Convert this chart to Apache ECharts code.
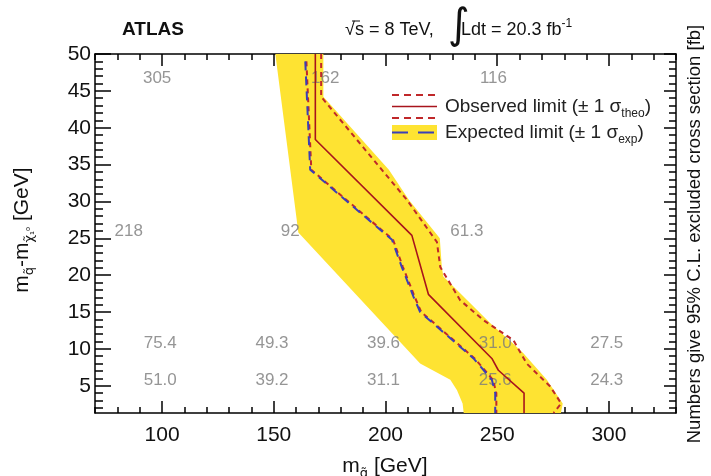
<!DOCTYPE html>
<html>
<head>
<meta charset="utf-8">
<script src="https://cdn.jsdelivr.net/npm/echarts@6/dist/echarts.min.js"></script>
<style>
html, body { margin: 0; padding: 0; background: #fff; }
#main { width: 711px; height: 476px; }
</style>
</head>
<body>
<div id="main"></div>
<script>
// tick positions
var xMajor = [100, 150, 200, 250, 300];
var xMinor = [70, 80, 90, 100, 110, 120, 130, 140, 150, 160, 170, 180, 190, 200, 210, 220, 230, 240, 250, 260, 270, 280, 290, 300, 310, 320, 330];
var yMajor = [5, 10, 15, 20, 25, 30, 35, 40, 45, 50];
var yMinor = [2, 3, 4, 5, 6, 7, 8, 9, 10, 11, 12, 13, 14, 15, 16, 17, 18, 19, 20, 21, 22, 23, 24, 25,
    26, 27, 28, 29, 30, 31, 32, 33, 34, 35, 36, 37, 38, 39, 40, 41, 42, 43, 44, 45, 46, 47, 48, 49, 50];

// limit contours [m_squark, delta m]
var observed = [[168.6, 50], [168.6, 38.4], [211.8, 25.4], [219.2, 17.4], [247.6, 8.7], [250.5, 7.1], [262, 4.0], [262, 1.3]];
var obsUp = [[171.2, 50], [171.2, 44.2], [209.6, 30.2], [223, 24.5], [224.5, 21.1], [233.4, 16.6], [243.8, 13.9],
    [257.2, 11.2], [263.2, 8.0], [273.7, 4.9], [278.6, 2.6], [275.2, 1.3]];
var obsDown = [[164.6, 49], [166.8, 34.3], [181, 30.6], [203.4, 24.8], [207.8, 21.1], [213, 17.1], [216, 15.0],
    [239.9, 8.7], [248.1, 5.8], [249.6, 4.0], [249.6, 1.3]];
var expected = [[164.1, 49], [166.3, 34.3], [180.5, 30.6], [202.9, 24.8], [207.3, 21.1], [212.5, 17.1], [215.5, 15.0],
    [239.4, 8.7], [247.6, 5.8], [249.1, 4.0], [249.1, 1.3]];
// expected +-1 sigma band outline
var expBand = [[150.7, 50], [161, 25.8], [215.5, 8.0], [229, 5.8], [232, 4.4], [234.5, 2.6], [235, 1.3],
    [278.5, 1.3], [279.3, 2.6], [272.2, 5.8], [261.7, 9.4], [257.2, 10.7], [246.8, 13.5], [234.9, 17.1],
    [225.9, 19.8], [225.2, 21.1], [224.3, 25.0], [210.5, 30.2], [201.5, 34.3], [172.2, 44.2], [172.2, 50]];

// excluded cross sections [fb]
var xsecText = ['305', '162', '116', '218', '92', '61.3', '75.4', '49.3', '39.6', '31.0', '27.5', '51.0', '39.2', '31.1', '25.6', '24.3'];
var xsecX = [97.8, 173, 248.3, 85.1, 157.4, 236.4, 99.2, 149.2, 199.1, 249.1, 299, 99.2, 149.2, 199.1, 249.1, 299];
var xsecY = [46.7, 46.7, 46.7, 25.9, 25.9, 25.9, 10.7, 10.7, 10.7, 10.7, 10.7, 5.8, 5.8, 5.8, 5.8, 5.8];

var FONT = '"Liberation Sans", Arial, Helvetica, sans-serif';
var RED = '#c0282a';
var DARKRED = '#a8141c';
var BLUE = '#3a3fb8';
var YELLOW = '#fee332';

function xAx(pos, ticks, len, labels, line) {
    return {
        type: 'value', min: 70, max: 330, position: pos,
        axisLine: { show: line, lineStyle: { color: '#000', width: 1.5 } },
        axisTick: { show: true, inside: true, length: len, customValues: ticks, lineStyle: { color: '#000', width: 1.5 } },
        axisLabel: labels ? { customValues: xMajor, fontSize: 21, color: '#111', margin: 12, fontFamily: FONT } : { show: false },
        splitLine: { show: false }
    };
}
function yAx(pos, ticks, len, labels, line) {
    return {
        type: 'value', min: 1.3, max: 50, position: pos,
        axisLine: { show: line, lineStyle: { color: '#000', width: 1.5 } },
        axisTick: { show: true, inside: true, length: len, customValues: ticks, lineStyle: { color: '#000', width: 1.5 } },
        axisLabel: labels ? { customValues: yMajor, fontSize: 21, color: '#111', margin: 4, fontFamily: FONT } : { show: false },
        splitLine: { show: false }
    };
}

var myChart = echarts.init(document.getElementById('main'));

var xsecData = [];
for (var i = 0; i < xsecText.length; i++) {
    xsecData.push([xsecX[i], xsecY[i], xsecText[i]]);
}

var option = {
    animation: false,
    backgroundColor: '#fff',
    grid: { left: 95, right: 35, top: 54, bottom: 63 },
    xAxis: [
        xAx('bottom', xMajor, 12, true, true),
        xAx('bottom', xMinor, 6, false, false),
        xAx('top', xMajor, 12, false, true),
        xAx('top', xMinor, 6, false, false)
    ],
    yAxis: [
        yAx('left', yMajor, 16, true, true),
        yAx('left', yMinor, 8, false, false),
        yAx('right', yMajor, 12, false, true),
        yAx('right', yMinor, 7, false, false)
    ],
    series: [
        {
            type: 'custom',
            silent: true,
            z: 1,
            data: expBand,
            encode: { x: 0, y: 1 },
            renderItem: function (params, api) {
                if (params.dataIndex !== 0) return null;
                var pts = expBand.map(function (p) { return api.coord(p); });
                return { type: 'polygon', shape: { points: pts }, style: { fill: YELLOW, stroke: null } };
            }
        },
        {
            type: 'scatter',
            z: 2,
            silent: true,
            symbolSize: 1,
            itemStyle: { color: 'rgba(0,0,0,0)' },
            data: xsecData,
            label: {
                show: true, position: 'inside',
                formatter: function (p) { return p.data[2]; },
                color: '#7a7a7a', fontSize: 17, fontFamily: FONT
            }
        },
        {
            type: 'line', z: 3, showSymbol: false, silent: true, data: obsUp,
            lineStyle: { color: RED, width: 2, type: [5, 4] }
        },
        {
            type: 'line', z: 3, showSymbol: false, silent: true, data: obsDown,
            lineStyle: { color: RED, width: 2, type: [5, 4] }
        },
        {
            type: 'line', z: 4, showSymbol: false, silent: true, data: expected,
            lineStyle: { color: BLUE, width: 2, type: [9, 6] }
        },
        {
            type: 'line', z: 5, showSymbol: false, silent: true, data: observed,
            lineStyle: { color: DARKRED, width: 1.6 }
        }
    ],
    graphic: [
        // header
        { type: 'text', left: 122, top: 20, style: { text: 'ATLAS', font: 'bold 19px ' + FONT, fill: '#111' } },
        { type: 'text', x: 345, y: 30, style: { text: '\u221As = 8 TeV,', font: '18px ' + FONT, fill: '#111', textVerticalAlign: 'middle' } },
        { type: 'line', shape: { x1: 352, y1: 21, x2: 360, y2: 21 }, style: { stroke: '#111', lineWidth: 1 } },
        { type: 'text', x: 448, y: 27, style: { text: '\u222B', font: '42px "DejaVu Sans", ' + FONT, fill: '#111', textVerticalAlign: 'middle' } },
        {
            type: 'text', x: 461, y: 30,
            style: {
                text: 'Ldt = 20.3 fb{sup|-1}', font: '18px ' + FONT, fill: '#111', textVerticalAlign: 'middle',
                lineHeight: 24,
                rich: { sup: { fontSize: 12, fontFamily: FONT, verticalAlign: 'top', lineHeight: 12 } }
            }
        },
        // axis titles
        {
            type: 'text', x: 385, y: 466,
            style: {
                text: 'm{s|q\u0303} [GeV]', font: '21px ' + FONT, fill: '#111', textAlign: 'center', textVerticalAlign: 'middle',
                lineHeight: 28,
                rich: { s: { fontSize: 13, fontFamily: '"DejaVu Sans", ' + FONT, verticalAlign: 'bottom', lineHeight: 14 } }
            }
        },
        {
            type: 'text', x: 22, y: 230, rotation: Math.PI / 2,
            style: {
                text: 'm{s|q\u0303}-m{s|\u03C7\u0303}{t|\u2081\u2070} [GeV]', font: '21px ' + FONT, fill: '#111',
                textAlign: 'center', textVerticalAlign: 'middle', lineHeight: 28,
                rich: {
                    s: { fontSize: 13, fontFamily: '"DejaVu Sans", ' + FONT, verticalAlign: 'bottom', lineHeight: 14 },
                    t: { fontSize: 10, fontFamily: '"DejaVu Sans", ' + FONT, verticalAlign: 'bottom', lineHeight: 14 }
                }
            }
        },
        {
            type: 'text', x: 695, y: 234, rotation: Math.PI / 2,
            style: {
                text: 'Numbers give 95% C.L. excluded cross section [fb]', font: '18.5px ' + FONT, fill: '#111',
                textAlign: 'center', textVerticalAlign: 'middle'
            }
        },
        // legend
        { type: 'line', shape: { x1: 392, y1: 95, x2: 437, y2: 95 }, style: { stroke: RED, lineWidth: 2, lineDash: [7, 5] } },
        { type: 'line', shape: { x1: 392, y1: 106.5, x2: 437, y2: 106.5 }, style: { stroke: DARKRED, lineWidth: 1.6 } },
        { type: 'line', shape: { x1: 392, y1: 118, x2: 437, y2: 118 }, style: { stroke: RED, lineWidth: 2, lineDash: [7, 5] } },
        { type: 'rect', shape: { x: 392, y: 125, width: 45, height: 15 }, style: { fill: YELLOW } },
        { type: 'line', shape: { x1: 392, y1: 132.5, x2: 437, y2: 132.5 }, style: { stroke: BLUE, lineWidth: 2, lineDash: [16, 10] } },
        {
            type: 'text', x: 445, y: 106.5,
            style: {
                text: 'Observed limit (\u00B1 1 \u03C3{sub|theo})', font: '19px ' + FONT, fill: '#222',
                textVerticalAlign: 'middle', lineHeight: 26,
                rich: { sub: { fontSize: 12, fontFamily: FONT, verticalAlign: 'bottom', lineHeight: 13 } }
            }
        },
        {
            type: 'text', x: 445, y: 132.5,
            style: {
                text: 'Expected limit (\u00B1 1 \u03C3{sub|exp})', font: '19px ' + FONT, fill: '#222',
                textVerticalAlign: 'middle', lineHeight: 26,
                rich: { sub: { fontSize: 12, fontFamily: FONT, verticalAlign: 'bottom', lineHeight: 13 } }
            }
        }
    ]
};
myChart.setOption(option);
</script>
</body>
</html>
